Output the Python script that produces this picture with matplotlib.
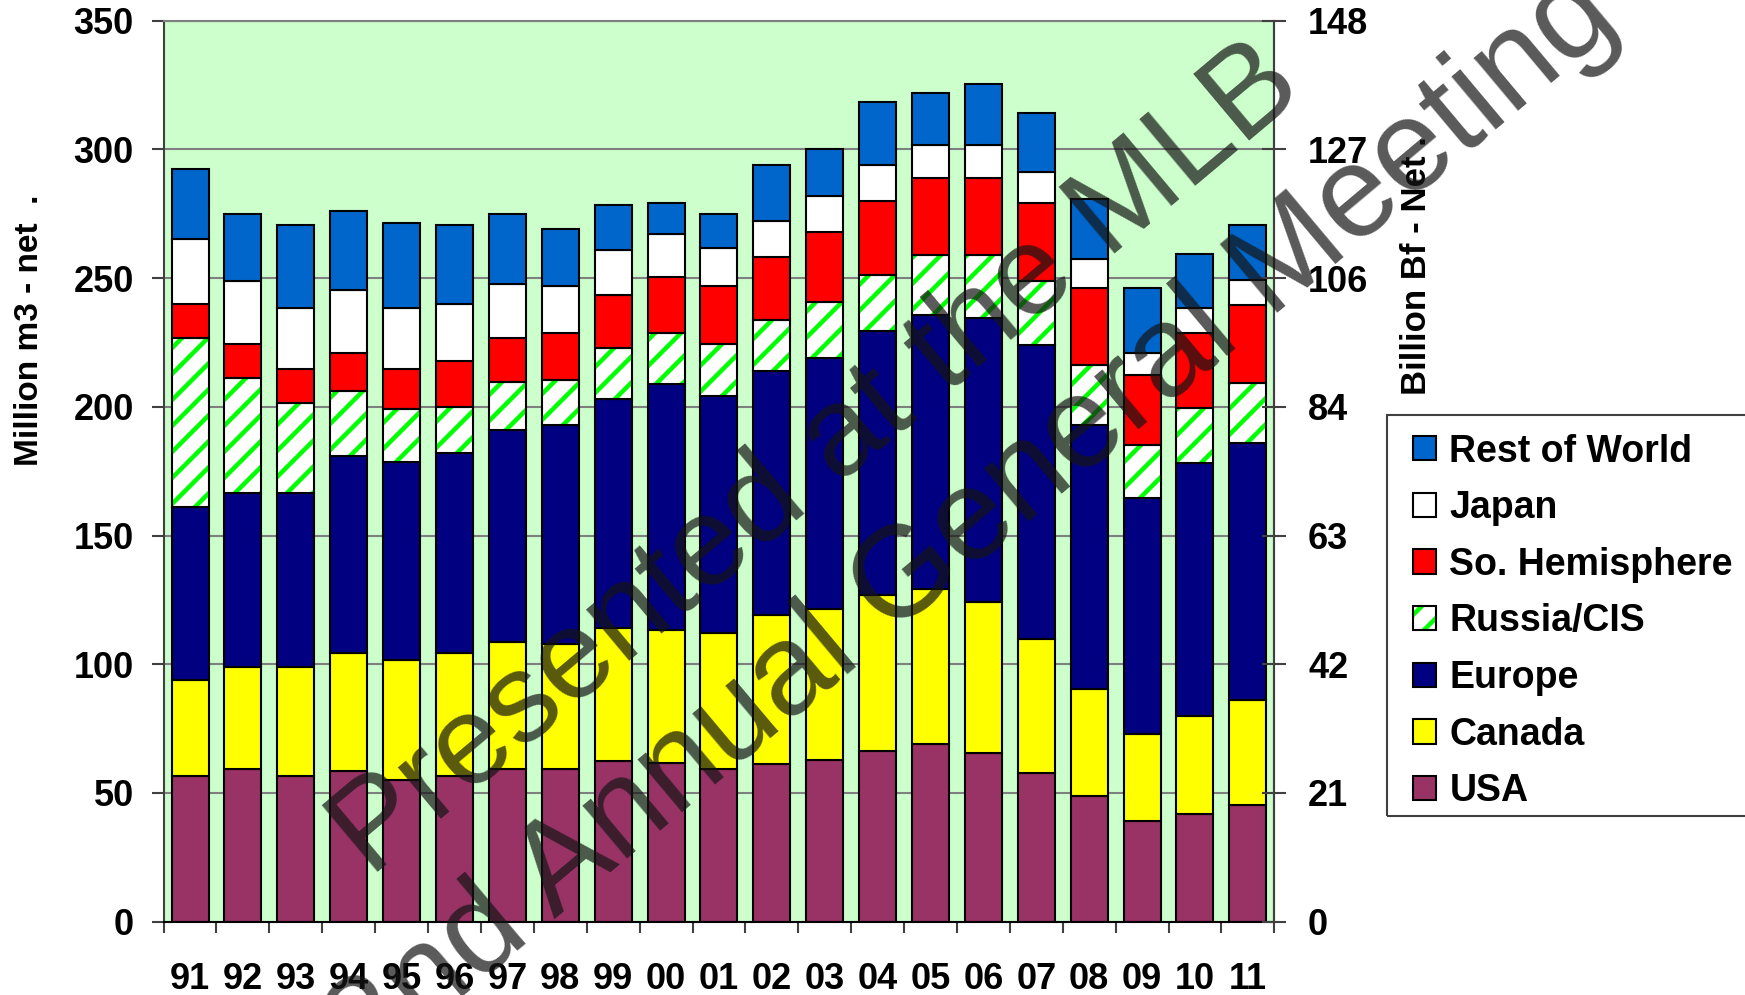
import numpy as np
import matplotlib
matplotlib.use("Agg")
import matplotlib.pyplot as plt
from matplotlib.patches import Patch, Rectangle
from matplotlib.legend_handler import HandlerTuple

# Softwood lumber consumption by region, million m3 (net)
years = ["91", "92", "93", "94", "95", "96", "97", "98", "99", "00", "01",
         "02", "03", "04", "05", "06", "07", "08", "09", "10", "11"]
usa = [56.7, 59.2, 56.7, 58.5, 55.0, 56.7, 59.2, 59.2, 62.4, 61.7, 59.2,
       61.1, 62.8, 66.2, 68.9, 65.5, 57.7, 48.9, 39.2, 41.9, 45.3]
canada = [37.2, 39.8, 42.3, 45.9, 46.7, 47.7, 49.6, 48.6, 51.5, 51.4, 52.9,
          58.1, 58.8, 60.8, 60.4, 58.8, 52.0, 41.6, 33.8, 38.1, 40.9]
europe = [67.1, 67.4, 67.4, 76.4, 76.9, 77.5, 82.1, 85.3, 89.3, 95.6, 92.2,
          94.7, 97.4, 102.4, 106.3, 110.3, 114.5, 102.6, 91.6, 98.3, 99.8]
russia = [65.9, 44.6, 35.2, 25.3, 20.4, 18.0, 18.6, 17.3, 19.5, 19.8, 20.0,
          20.0, 21.8, 21.8, 23.3, 24.3, 24.6, 23.3, 20.5, 21.4, 23.3]
so_hemi = [13.0, 13.3, 13.0, 14.9, 15.6, 17.8, 17.4, 18.3, 20.7, 22.0, 22.7,
           24.4, 27.2, 28.8, 29.8, 29.8, 30.5, 29.8, 27.1, 29.0, 30.2]
japan = [25.4, 24.5, 23.6, 24.3, 23.6, 22.4, 20.9, 18.3, 17.7, 16.5, 14.8,
         14.0, 13.8, 13.9, 13.2, 13.2, 12.0, 11.2, 8.7, 9.5, 9.7]
rest = [27.0, 26.2, 32.4, 30.6, 33.3, 30.5, 27.2, 21.9, 17.2, 12.3, 13.2,
        21.8, 18.3, 24.6, 20.1, 23.5, 22.7, 23.5, 25.3, 21.1, 21.6]

left_ticks = [0, 50, 100, 150, 200, 250, 300, 350]
right_tick_labels = ["0", "21", "42", "63", "84", "106", "127", "148"]

# A lower dpi gives a finer stripe pattern; sizes below are given as if at
# 100 dpi and rescaled by pt().
DPI = 78
def pt(v):
    return v * 100.0 / DPI

plt.rcParams["font.family"] = ["Liberation Sans", "DejaVu Sans"]
plt.rcParams["font.weight"] = "bold"
plt.rcParams["hatch.linewidth"] = 4.5 * 72.0 / DPI

W, H = 1745, 995
fig = plt.figure(figsize=(W / DPI, H / DPI), dpi=DPI)
fig.patch.set_facecolor("white")

x0, x1 = 163.6, 1274.3
y_top, y_bot = 20.7, 921.6
ax = fig.add_axes([x0 / W, 1 - y_bot / H, (x1 - x0) / W, (y_bot - y_top) / H])
ax.set_facecolor("#CCFFCC")

x = np.arange(len(years)) + 0.5
bw = 0.70
edge = dict(edgecolor="black", linewidth=pt(1.5))

bottom = np.zeros(len(years))
handles = {}
for name, vals, col in [("USA", usa, "#993366"), ("Canada", canada, "#FFFF00"),
                        ("Europe", europe, "#000080")]:
    ax.bar(x, vals, bw, bottom=bottom, color=col, zorder=2, **edge)
    handles[name] = Patch(facecolor=col, **edge)
    bottom += np.array(vals)

# Russia/CIS: white with green diagonal stripes, black outline on top
ax.bar(x, russia, bw, bottom=bottom, color="white", edgecolor="#00FF00",
       hatch="/", linewidth=0, zorder=2)
ax.bar(x, russia, bw, bottom=bottom, fill=False, zorder=2.1, **edge)
handles["Russia/CIS"] = (Patch(facecolor="white", edgecolor="#00FF00", hatch="/", linewidth=0),
                         Patch(fill=False, **edge))
bottom += np.array(russia)

for name, vals, col in [("So. Hemisphere", so_hemi, "#FF0000"),
                        ("Japan", japan, "#FFFFFF"),
                        ("Rest of World", rest, "#0066CC")]:
    ax.bar(x, vals, bw, bottom=bottom, color=col, zorder=2, **edge)
    handles[name] = Patch(facecolor=col, **edge)
    bottom += np.array(vals)

ax.set_xlim(0, len(years))
ax.set_ylim(0, 350)
ax.set_yticks(left_ticks)
ax.yaxis.grid(True, color="#7f7f7f", linewidth=pt(1.5), zorder=1)
ax.set_axisbelow(True)

ax.set_xticks(x)
ax.set_xticklabels(years)
ax.set_xticks(np.arange(len(years) + 1), minor=True)
ax.tick_params(axis="x", which="major", length=0, pad=pt(29), labelsize=pt(26))
ax.tick_params(axis="x", which="minor", length=pt(8), width=pt(1.5),
               direction="out", color="#404040")
ax.tick_params(axis="y", which="major", length=pt(8.5), width=pt(1.5),
               direction="out", pad=pt(13), labelsize=pt(26), color="#404040")

for side in ("left", "right"):
    ax.spines[side].set_color("#404040")
    ax.spines[side].set_linewidth(pt(1.5))
ax.spines["top"].set_color("#7f7f7f")
ax.spines["top"].set_linewidth(pt(1.5))
ax.spines["bottom"].set_color("black")
ax.spines["bottom"].set_linewidth(pt(1.5))

ax2 = ax.twinx()
ax2.set_ylim(0, 350)
ax2.set_yticks(left_ticks)
ax2.set_yticklabels(right_tick_labels)
ax2.tick_params(axis="y", length=pt(17), width=pt(1.5), direction="inout",
                pad=pt(15.8), labelsize=pt(26), color="#404040")
for side in ("left", "top", "bottom"):
    ax2.spines[side].set_visible(False)
ax2.spines["right"].set_color("#404040")
ax2.spines["right"].set_linewidth(pt(1.5))

fig.text(30 / W, 1 - 330 / H, "Million m3 - net  .", rotation=90,
         ha="center", va="center", fontsize=pt(24))
fig.text(1417 / W, 1 - 266 / H, "Billion Bf - Net .", rotation=90,
         ha="center", va="center", fontsize=pt(25))

# Legend box runs off the right edge of the figure
fig.patches.append(Rectangle((1387 / W, 1 - 816 / H), (1760 - 1387) / W,
                             (816 - 415) / H, transform=fig.transFigure,
                             fill=False, edgecolor="#404040",
                             linewidth=pt(1.5), zorder=4))
order = ["Rest of World", "Japan", "So. Hemisphere", "Russia/CIS",
         "Europe", "Canada", "USA"]
leg = fig.legend([handles[k] for k in order], order,
                 loc="upper left", bbox_to_anchor=(1413 / W, 1 - 433.5 / H),
                 fontsize=pt(27), frameon=False, borderpad=0, borderaxespad=0,
                 handlelength=0.62, handleheight=0.62, handletextpad=0.35,
                 labelspacing=0.55,
                 handler_map={tuple: HandlerTuple(ndivide=1, pad=0)})

# Meeting watermark
wm = dict(rotation=40, rotation_mode="anchor", ha="center", va="baseline",
          fontweight="normal", color=(21 / 255,) * 3, alpha=0.71, zorder=10)
fig.text(838 / W, 1 - 486 / H, "Presented at the MLB", fontsize=pt(91), **wm)
fig.text(995 / W, 1 - 550 / H, "2nd Annual General Meeting", fontsize=pt(93), **wm)

fig.savefig("out.png", dpi=DPI)
